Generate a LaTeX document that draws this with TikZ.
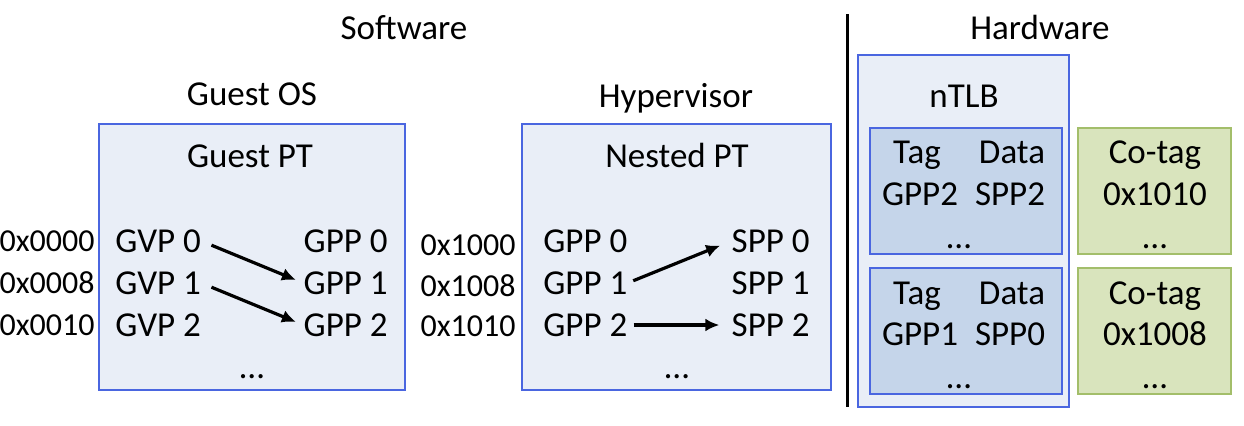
\documentclass[tikz,border=0pt]{standalone}
\usepackage{fontspec}
\setmainfont{Carlito}
\usetikzlibrary{arrows.meta,positioning}
\definecolor{ptfill}{HTML}{E9EEF7}
\definecolor{ptline}{HTML}{4A66E0}
\definecolor{tlbfill}{HTML}{C5D5EA}
\definecolor{cofill}{HTML}{D9E4BD}
\definecolor{coline}{HTML}{A3BE6A}
\tikzset{
    txt/.style={font=\fontsize{17.5}{21}\selectfont, inner sep=0pt, text height=11.3pt, text depth=0pt},
    addrtxt/.style={font=\fontsize{16}{19}\selectfont, inner sep=0pt, text height=10.3pt, text depth=0pt, anchor=east},
    dotstxt/.style={font=\fontsize{17.5}{21}\selectfont, inner sep=0pt, anchor=base},
    ptbox/.style={draw=ptline, fill=ptfill, line width=0.8pt},
    tlbbox/.style={draw=ptline, fill=tlbfill, line width=0.8pt},
    cobox/.style={draw=coline, fill=cofill, line width=0.8pt},
    maparrow/.style={-{Latex[length=7pt,width=6.5pt]}, line width=1.6pt}
}
\begin{document}
\begin{tikzpicture}[x=0.5pt,y=-0.5pt]
    \useasboundingbox (0,0) rectangle (1244,425);
    \node[txt] (sw) at (404,28) {Software};
    \node[txt] (hw) at (1040,28) {Hardware};
    \draw[line width=1.5pt] (847,14) -- (847,407);

    \node[txt] (guestos) at (252,94) {Guest OS};
    \draw[ptbox] (99,124) rectangle (405,390);
    \node[txt] (guestpt) at (250,156) {Guest PT};
    \node[addrtxt] (ga0) at (95,241) {0x0000};
    \node[addrtxt] (ga1) at (95,283) {0x0008};
    \node[addrtxt] (ga2) at (95,325) {0x0010};
    \node[txt, anchor=west] (gvp0) at (115,241) {GVP 0};
    \node[txt, anchor=west] (gvp1) at (115,283) {GVP 1};
    \node[txt, anchor=west] (gvp2) at (115,325) {GVP 2};
    \node[txt, anchor=east] (gpp0) at (388,241) {GPP 0};
    \node[txt, anchor=east] (gpp1) at (388,283) {GPP 1};
    \node[txt, anchor=east] (gpp2) at (388,325) {GPP 2};
    \node[dotstxt] (gdots) at (252,378) {…};
    \draw[maparrow, shorten <=5.5pt, shorten >=4pt] (gvp0.east) -- (gpp1.west);
    \draw[maparrow, shorten <=5.5pt, shorten >=4pt] (gvp1.east) -- (gpp2.west);

    \node[txt] (hyp) at (676,96) {Hypervisor};
    \draw[ptbox] (522,124) rectangle (831,390);
    \node[txt] (nestedpt) at (677,156) {Nested PT};
    \node[addrtxt] (na0) at (516,245) {0x1000};
    \node[addrtxt] (na1) at (516,286) {0x1008};
    \node[addrtxt] (na2) at (516,326) {0x1010};
    \node[txt, anchor=west] (ngpp0) at (543,241) {GPP 0};
    \node[txt, anchor=west] (ngpp1) at (543,283) {GPP 1};
    \node[txt, anchor=west] (ngpp2) at (543,325) {GPP 2};
    \node[txt, anchor=east] (spp0) at (810,241) {SPP 0};
    \node[txt, anchor=east] (spp1) at (810,283) {SPP 1};
    \node[txt, anchor=east] (spp2) at (810,325) {SPP 2};
    \node[dotstxt] (ndots) at (677,378) {…};
    \draw[maparrow, shorten <=3pt, shorten >=6pt] (ngpp1.east) -- (spp0.west);
    \draw[maparrow, shorten <=3pt, shorten >=6pt] (ngpp2.east) -- (spp2.west);

    \draw[ptbox] (858,55) rectangle (1069,407);
    \node[txt] (ntlb) at (964,96) {nTLB};
    \draw[tlbbox] (870,128) rectangle (1062,254);
    \node[txt] (tag1) at (917,152) {Tag};
    \node[txt] (data1) at (1012,152) {Data};
    \node[txt] (tgpp2) at (920,194) {GPP2};
    \node[txt] (tspp2) at (1010,194) {SPP2};
    \node[dotstxt] (tdots1) at (959,248) {…};
    \draw[tlbbox] (870,268) rectangle (1062,394);
    \node[txt] (tag2) at (917,293) {Tag};
    \node[txt] (data2) at (1012,293) {Data};
    \node[txt] (tgpp1) at (920,334) {GPP1};
    \node[txt] (tspp0) at (1010,334) {SPP0};
    \node[dotstxt] (tdots2) at (959,388) {…};

    \draw[cobox] (1078,128) rectangle (1231,254);
    \node[txt] (cotag1) at (1155,152) {Co-tag};
    \node[txt] (coval1) at (1155,194) {0x1010};
    \node[dotstxt] (codots1) at (1155,248) {…};
    \draw[cobox] (1078,268) rectangle (1231,394);
    \node[txt] (cotag2) at (1155,293) {Co-tag};
    \node[txt] (coval2) at (1155,334) {0x1008};
    \node[dotstxt] (codots2) at (1155,388) {…};
\end{tikzpicture}
\end{document}
